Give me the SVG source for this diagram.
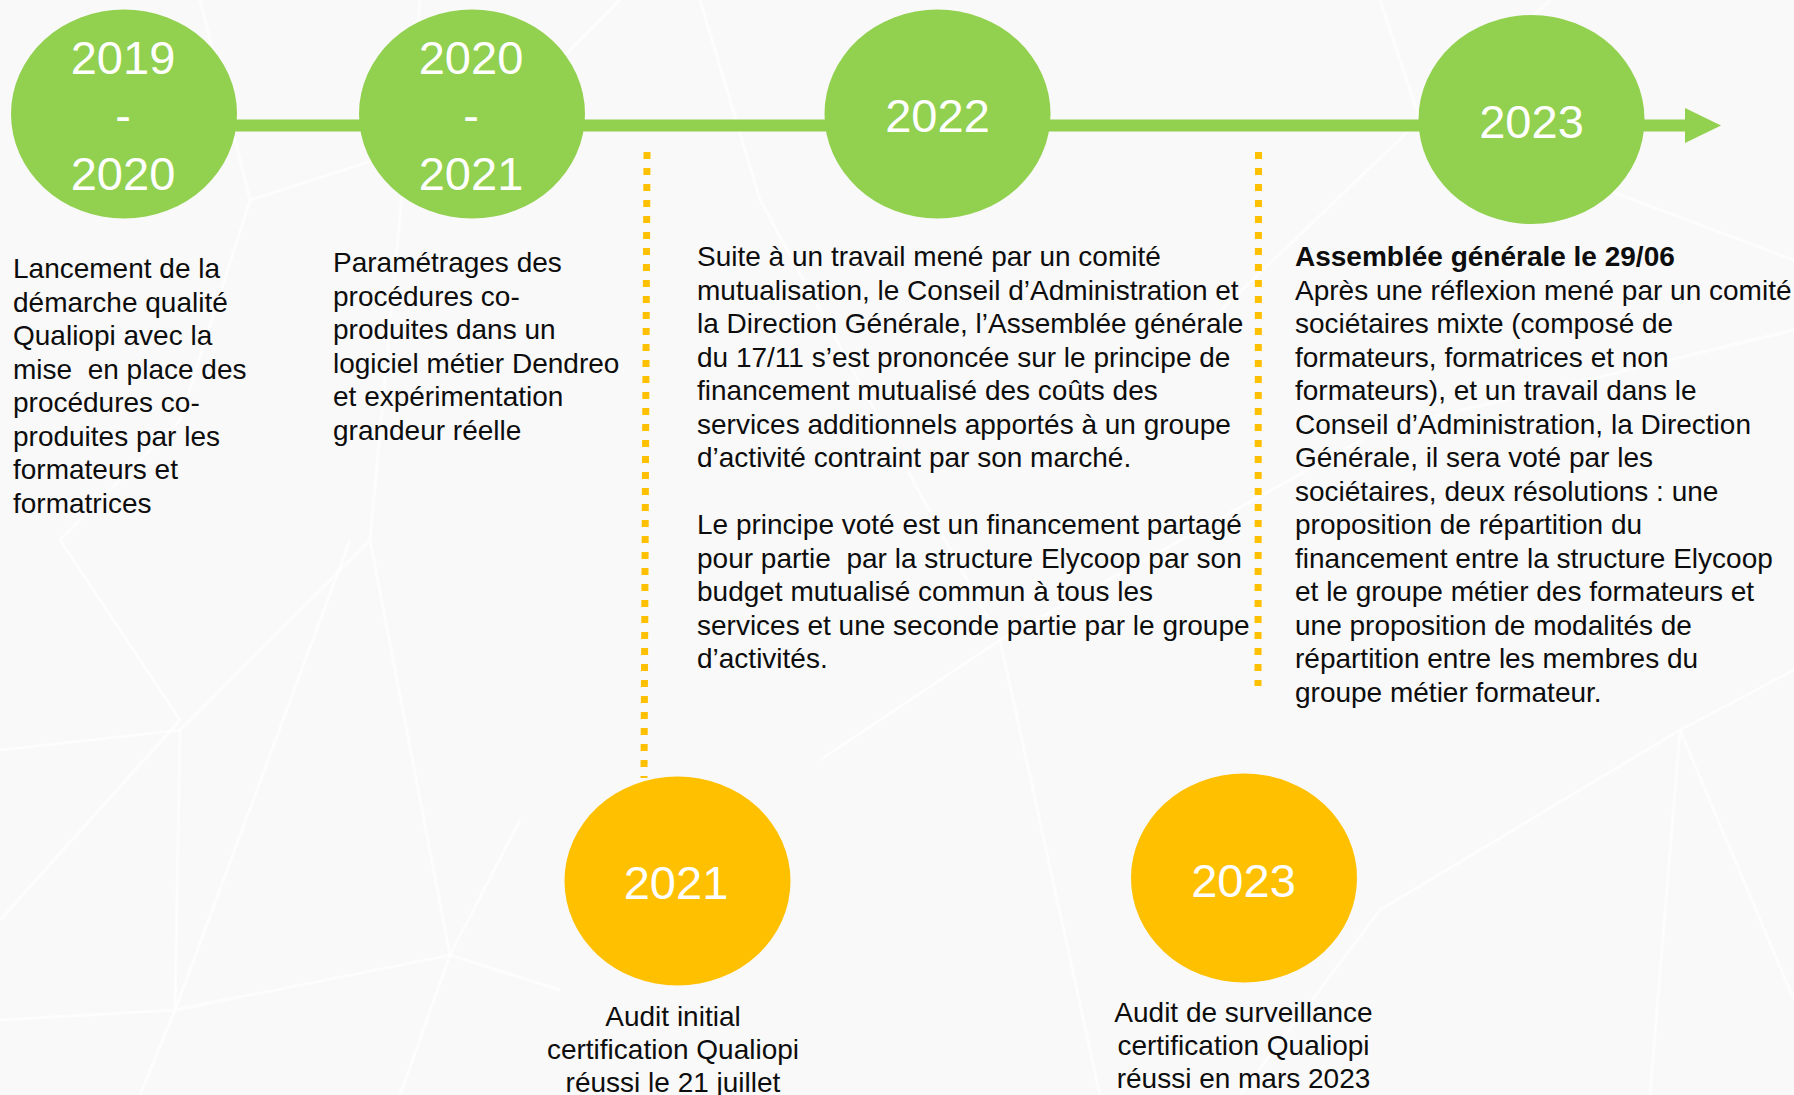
<svg xmlns="http://www.w3.org/2000/svg" width="1794" height="1095" viewBox="0 0 1794 1095">
<defs>
<style>
.bgl{stroke:#ffffff;stroke-width:3;fill:none;opacity:0.7}
.green{fill:#92D050}
.orange{fill:#FFC000}
.yr{font-family:"Liberation Sans",Arial,sans-serif;font-size:47px;fill:#ffffff;text-anchor:middle}
.body{font-family:"Liberation Sans",Arial,sans-serif;font-size:28px;fill:#0d0d0d}
.ctr{text-anchor:middle}
.dot{stroke:#FFC000;stroke-width:7;stroke-dasharray:7 9;fill:none}
</style>
</defs>
<rect x="0" y="0" width="1794" height="1095" fill="#f9f9f9"/>
<g id="background">
<path class="bgl" d="M60 540 L180 720 L0 920"/>
<path class="bgl" d="M0 750 L180 730 L370 540 L420 0"/>
<path class="bgl" d="M180 730 L175 1010 L0 1020"/>
<path class="bgl" d="M175 1010 L450 955 L560 990"/>
<path class="bgl" d="M350 540 L175 1010 L140 1095"/>
<path class="bgl" d="M370 540 L450 955 L520 820"/>
<path class="bgl" d="M450 955 L400 1095"/>
<path class="bgl" d="M200 0 L250 200 L180 420 L60 540"/>
<path class="bgl" d="M250 200 L500 120 L620 0"/>
<path class="bgl" d="M700 0 L760 200 L1000 640 L1100 1095"/>
<path class="bgl" d="M1000 640 L1380 430 L1794 330"/>
<path class="bgl" d="M1380 0 L1420 120 L1794 260"/>
<path class="bgl" d="M1550 0 L1420 120 L1200 330"/>
<path class="bgl" d="M1680 730 L1794 670"/>
<path class="bgl" d="M1680 730 L1380 910 L1240 1095"/>
<path class="bgl" d="M1680 730 L1650 1095"/>
<path class="bgl" d="M1680 730 L1794 1000"/>
<path class="bgl" d="M820 760 L1000 640"/>
</g>
<g id="connectors">
<rect class="green" x="228" y="119.5" width="1458" height="12"/>
<polygon class="green" points="1685,108 1721,125.5 1685,143"/>
<line class="dot" x1="647" y1="152" x2="644" y2="778"/>
<line class="dot" x1="1258.5" y1="152" x2="1258" y2="686"/>
</g>
<g id="node-2019-2020">
<ellipse class="green" cx="124" cy="114" rx="113" ry="104.5"/>
<text class="yr" x="123" y="74">2019</text>
<text class="yr" x="123" y="132">-</text>
<text class="yr" x="123" y="190">2020</text>
</g>
<g id="node-2020-2021">
<ellipse class="green" cx="472" cy="114" rx="113" ry="104.5"/>
<text class="yr" x="471" y="74">2020</text>
<text class="yr" x="471" y="132">-</text>
<text class="yr" x="471" y="190">2021</text>
</g>
<g id="node-2022">
<ellipse class="green" cx="937.5" cy="114" rx="113" ry="104.5"/>
<text class="yr" x="937.5" y="132">2022</text>
</g>
<g id="node-2023-top">
<ellipse class="green" cx="1531.5" cy="119.5" rx="113" ry="104.5"/>
<text class="yr" x="1531.5" y="137.5">2023</text>
</g>
<g id="node-2021-audit">
<ellipse class="orange" cx="677.5" cy="881" rx="113" ry="104.5"/>
<text class="yr" x="676" y="899">2021</text>
</g>
<g id="node-2023-audit">
<ellipse class="orange" cx="1244" cy="878" rx="113" ry="104.5"/>
<text class="yr" x="1243.5" y="896.5">2023</text>
</g>
<g id="text-2019-2020">
<text class="body" x="13" y="278.3">Lancement de la</text>
<text class="body" x="13" y="311.8">démarche qualité</text>
<text class="body" x="13" y="345.3">Qualiopi avec la</text>
<text class="body" x="13" y="378.8" xml:space="preserve">mise  en place des</text>
<text class="body" x="13" y="412.3">procédures co-</text>
<text class="body" x="13" y="445.8">produites par les</text>
<text class="body" x="13" y="479.3">formateurs et</text>
<text class="body" x="13" y="512.8">formatrices</text>
</g>
<g id="text-2020-2021">
<text class="body" x="333" y="272">Paramétrages des</text>
<text class="body" x="333" y="305.5">procédures co-</text>
<text class="body" x="333" y="339">produites dans un</text>
<text class="body" x="333" y="372.5">logiciel métier Dendreo</text>
<text class="body" x="333" y="406">et expérimentation</text>
<text class="body" x="333" y="439.5">grandeur réelle</text>
</g>
<g id="text-2022">
<text class="body" x="697" y="266">Suite à un travail mené par un comité</text>
<text class="body" x="697" y="299.5">mutualisation, le Conseil d’Administration et</text>
<text class="body" x="697" y="333">la Direction Générale, l’Assemblée générale</text>
<text class="body" x="697" y="366.5">du 17/11 s’est prononcée sur le principe de</text>
<text class="body" x="697" y="400">financement mutualisé des coûts des</text>
<text class="body" x="697" y="433.5">services additionnels apportés à un groupe</text>
<text class="body" x="697" y="467">d’activité contraint par son marché.</text>
<text class="body" x="697" y="534">Le principe voté est un financement partagé</text>
<text class="body" x="697" y="567.5" xml:space="preserve">pour partie  par la structure Elycoop par son</text>
<text class="body" x="697" y="601">budget mutualisé commun à tous les</text>
<text class="body" x="697" y="634.5">services et une seconde partie par le groupe</text>
<text class="body" x="697" y="668">d’activités.</text>
</g>
<g id="text-2023">
<text class="body" x="1295" y="266" font-weight="bold">Assemblée générale le 29/06</text>
<text class="body" x="1295" y="299.5">Après une réflexion mené par un comité</text>
<text class="body" x="1295" y="333">sociétaires mixte (composé de</text>
<text class="body" x="1295" y="366.5">formateurs, formatrices et non</text>
<text class="body" x="1295" y="400">formateurs), et un travail dans le</text>
<text class="body" x="1295" y="433.5">Conseil d’Administration, la Direction</text>
<text class="body" x="1295" y="467">Générale, il sera voté par les</text>
<text class="body" x="1295" y="500.5">sociétaires, deux résolutions : une</text>
<text class="body" x="1295" y="534">proposition de répartition du</text>
<text class="body" x="1295" y="567.5">financement entre la structure Elycoop</text>
<text class="body" x="1295" y="601">et le groupe métier des formateurs et</text>
<text class="body" x="1295" y="634.5">une proposition de modalités de</text>
<text class="body" x="1295" y="668">répartition entre les membres du</text>
<text class="body" x="1295" y="701.5">groupe métier formateur.</text>
</g>
<g id="text-2021-audit">
<text class="body ctr" x="673" y="1025.7">Audit initial</text>
<text class="body ctr" x="673" y="1059">certification Qualiopi</text>
<text class="body ctr" x="673" y="1092.3">réussi le 21 juillet</text>
</g>
<g id="text-2023-audit">
<text class="body ctr" x="1243.5" y="1021.7">Audit de surveillance</text>
<text class="body ctr" x="1243.5" y="1055">certification Qualiopi</text>
<text class="body ctr" x="1243.5" y="1088.3">réussi en mars 2023</text>
</g>
</svg>
